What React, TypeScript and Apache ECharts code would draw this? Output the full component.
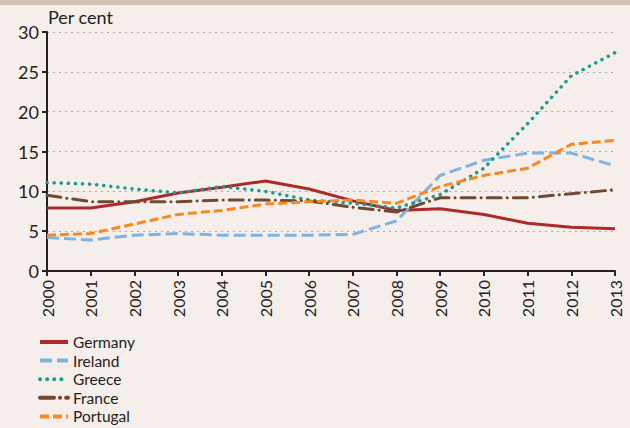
import React, { useEffect, useRef } from "react";
import * as echarts from "echarts";

const years = ["2000","2001","2002","2003","2004","2005","2006","2007","2008","2009","2010","2011","2012","2013"];
const countries = ["Germany", "Ireland", "Greece", "France", "Portugal"];
const germany = [7.9, 7.9, 8.7, 9.8, 10.5, 11.3, 10.3, 8.8, 7.6, 7.8, 7.1, 6.0, 5.5, 5.3];
const ireland = [4.2, 3.9, 4.5, 4.7, 4.5, 4.5, 4.5, 4.6, 6.3, 12.0, 13.9, 14.8, 14.8, 13.2];
const greece = [11.1, 10.9, 10.3, 9.8, 10.6, 10.0, 8.9, 8.5, 7.9, 9.6, 12.9, 18.5, 24.5, 27.4];
const france = [9.5, 8.7, 8.7, 8.7, 8.9, 8.9, 8.8, 8.0, 7.4, 9.2, 9.2, 9.2, 9.7, 10.2];
const portugal = [4.5, 4.7, 5.9, 7.1, 7.6, 8.4, 8.7, 8.9, 8.5, 10.6, 12.0, 12.9, 15.9, 16.4];
const yTicks = [0, 5, 10, 15, 20, 25, 30];

const FONT = "Lato, 'Open Sans', sans-serif";

export default function App() {
  const ref = useRef<HTMLDivElement>(null);
  useEffect(() => {
    const chart = echarts.init(ref.current!, null, { renderer: "svg" });
    const mk = (name: string, data: number[], color: string, type: any, width: number, cap: any = "butt") => ({
      name,
      type: "line",
      data,
      symbol: "none",
      smooth: false,
      lineStyle: { color, width, type, cap },
      itemStyle: { color },
    });
    chart.setOption({
      animation: false,
      backgroundColor: "#f6eeea",
      textStyle: { fontFamily: FONT },
      graphic: [
        { type: "rect", left: 0, top: 0, shape: { width: 630, height: 5 }, style: { fill: "#d4c3b3" } },
        { type: "text", left: 48, top: 8, style: { text: "Per cent", fontSize: 18, fill: "#222", fontFamily: FONT } },
      ],
      grid: { left: 47, right: 15, top: 32, bottom: 157 },
      xAxis: {
        type: "category",
        data: years,
        boundaryGap: false,
        axisLine: { lineStyle: { color: "#222", width: 2 } },
        axisTick: { show: true, length: 5, alignWithLabel: true, lineStyle: { color: "#222", width: 2 } },
        axisLabel: { rotate: 90, fontSize: 16, color: "#222", margin: 9, fontFamily: FONT, interval: 0 },
      },
      yAxis: {
        type: "value",
        min: yTicks[0],
        max: yTicks[yTicks.length - 1],
        interval: 5,
        axisLine: { show: true, lineStyle: { color: "#222", width: 2 } },
        axisTick: { show: true, length: 5, lineStyle: { color: "#222", width: 2 } },
        axisLabel: { fontSize: 18, color: "#222", margin: 8, fontFamily: FONT },
        splitLine: { lineStyle: { color: "#aaa", type: [2, 4], width: 1.2 } },
      },
      legend: countries.map((c, i) => ({
        orient: "vertical",
        left: 38,
        top: 334 + i * 18.6,
        padding: 0,
        itemWidth: 28,
        itemHeight: 14,
        itemGap: 0,
        itemStyle: { opacity: 0 },
        lineStyle: { width: 4 },
        textStyle: { fontSize: 15.5, lineHeight: 15.5, color: "#222", fontFamily: FONT },
        data: [c],
      })),
      series: [
        mk("Germany", germany, "#ad2a2c", "solid", 3),
        mk("Ireland", ireland, "#7db4df", [12, 5], 3),
        mk("Greece", greece, "#1a9c8e", [0.1, 7], 3.5, "round"),
        mk("France", france, "#6e4a32", [14, 6, 0.1, 6], 3, "round"),
        mk("Portugal", portugal, "#f6891f", [9, 4], 3),
      ],
    });
    return () => chart.dispose();
  }, []);
  return <div ref={ref} style={{ position: "fixed", left: 0, top: 0, width: 630, height: 428 }} />;
}
